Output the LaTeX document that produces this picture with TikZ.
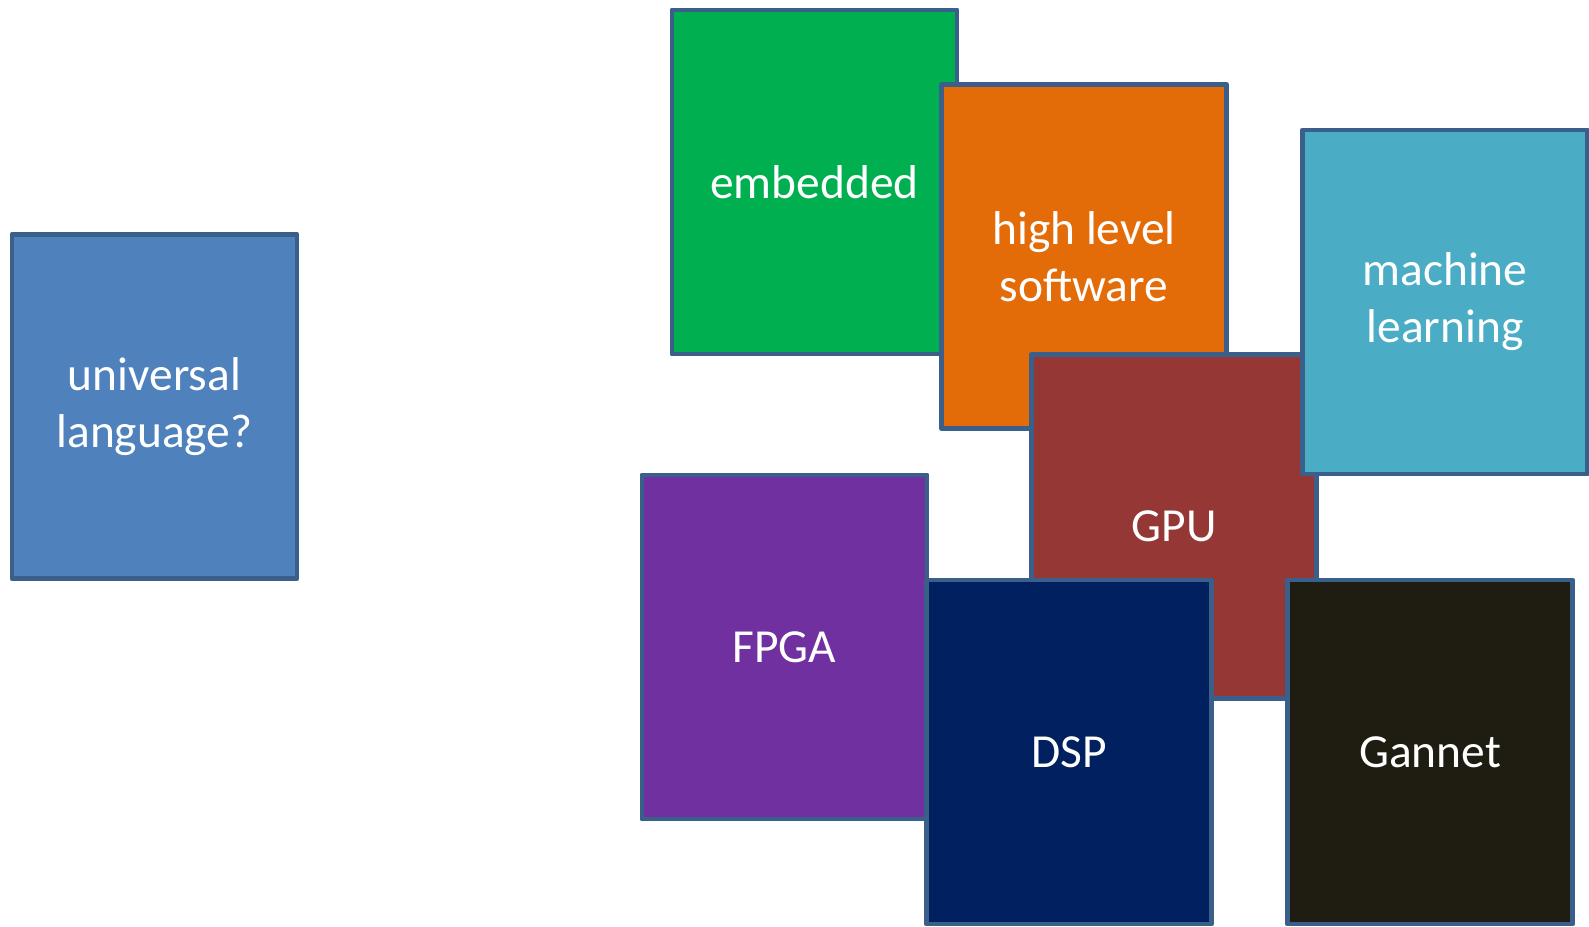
\documentclass[tikz,border=0pt]{standalone}
\usepackage{fontspec}
\setmainfont{Carlito}
\definecolor{rim}{HTML}{3A5F8B}
\definecolor{univblue}{HTML}{4F81BD}
\definecolor{embgreen}{HTML}{00B050}
\definecolor{hlsorange}{HTML}{E36C09}
\definecolor{mlteal}{HTML}{4BACC6}
\definecolor{gpured}{HTML}{953735}
\definecolor{fpgapurple}{HTML}{7030A0}
\definecolor{dspnavy}{HTML}{002060}
\definecolor{gannetdark}{HTML}{1F1C11}
\begin{document}
\begin{tikzpicture}[tile/.style={draw=rim, line width=1.4pt, line join=round,
    minimum width=2.85cm, minimum height=3.44cm, inner sep=0pt,
    text=white, align=center, font=\fontsize{13.5}{16.2}\selectfont}]
    \useasboundingbox (0,0) rectangle (15.89,-9.26);

    \node[tile, fill=univblue] (univ) at (1.545, -4.065) {universal\\language?};

    % the cluster, drawn back to front
    \node[tile, fill=embgreen] (embedded) at (8.145, -1.82) {embedded};
    \node[tile, fill=hlsorange] (hls) at (10.84, -2.565) {high level\\software};
    \node[tile, fill=gpured] (gpu) at (11.74, -5.265) {GPU};
    \node[tile, fill=mlteal] (ml) at (14.45, -3.02) {machine\\learning};
  \node[tile, fill=fpgapurple] (fpga) at (7.845, -6.47) {FPGA};
  \node[tile, fill=dspnavy] (dsp) at (10.69, -7.52) {DSP};
  \node[tile, fill=gannetdark] (gannet) at (14.30, -7.52) {Gannet};
  \end{tikzpicture}
\end{document}
